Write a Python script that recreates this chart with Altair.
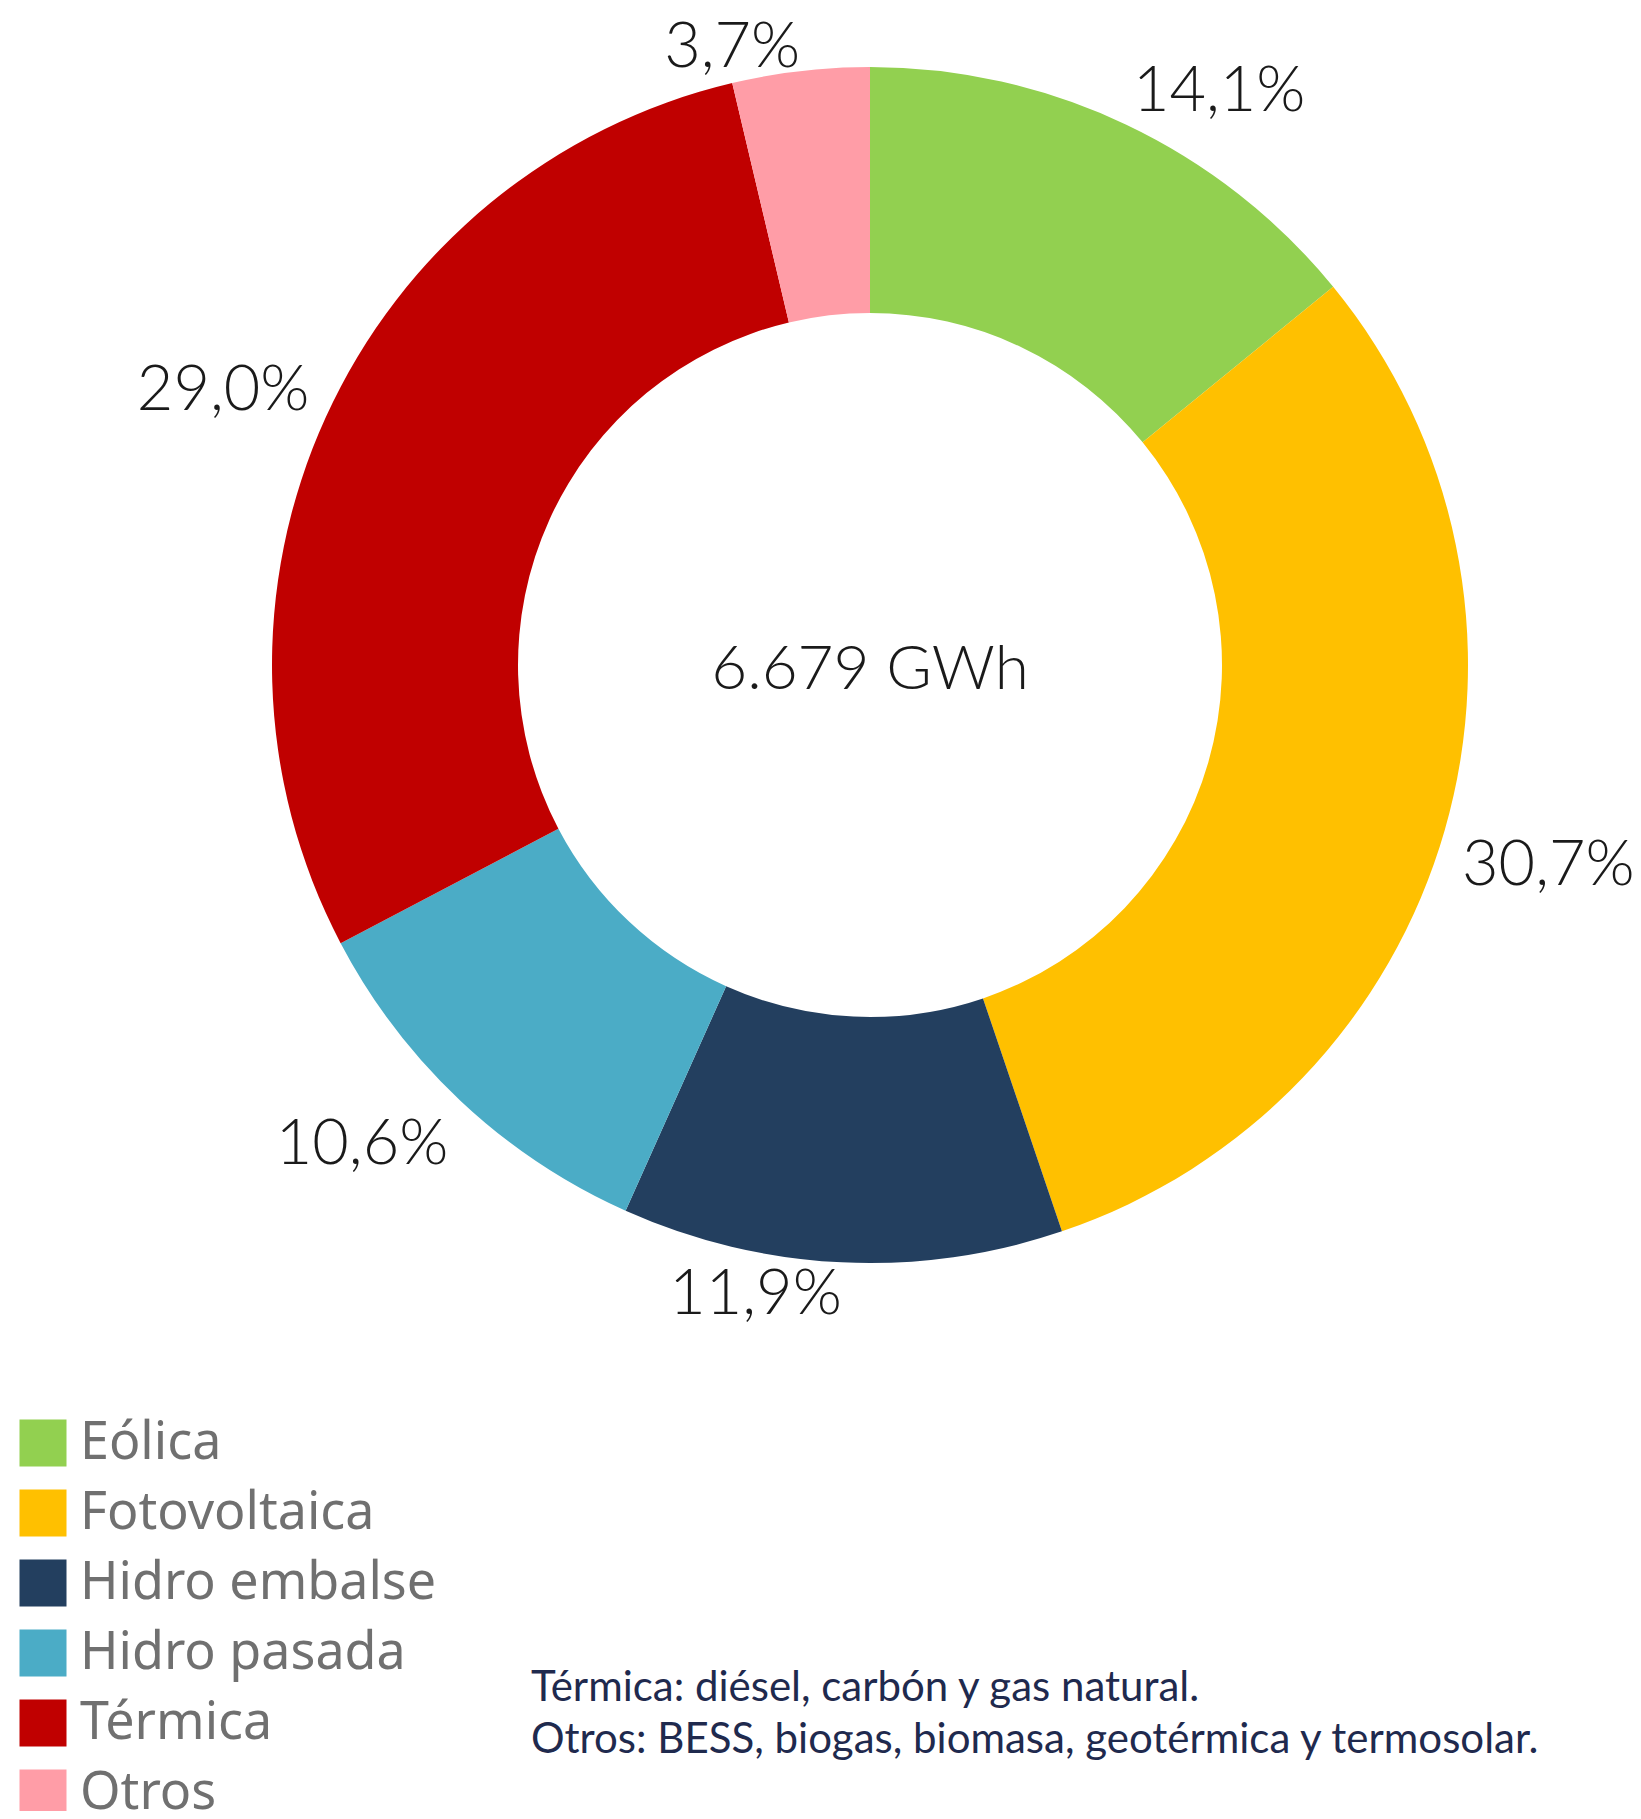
import altair as alt
import pandas as pd

categories = ["Eólica", "Fotovoltaica", "Hidro embalse", "Hidro pasada", "Térmica", "Otros"]
shares = [14.1, 30.7, 11.9, 10.6, 29.0, 3.7]
colors = ["#92D050", "#FFC000", "#233F5F", "#4BACC6", "#C00000", "#FF9DA7"]
total_label = "6.679 GWh"
footnote_lines = [
    "Térmica: diésel, carbón y gas natural.",
    "Otros: BESS, biogas, biomasa, geotérmica y termosolar.",
]

df = pd.DataFrame({"cat": categories, "value": shares, "idx": list(range(len(categories)))})

W, H = 1625, 1803
CX, CY = 862, 657
R_OUT, R_IN = 598, 352
FONT = "Noto Sans"
LFONT = "Lato"

theta_scale = alt.Scale(domain=[0, 100])
color_scale = alt.Scale(domain=categories, range=colors)

base = alt.Chart(df)

arcs = base.mark_arc(outerRadius=R_OUT, innerRadius=R_IN).encode(
    theta=alt.Theta("value:Q", stack=True, scale=theta_scale),
    color=alt.Color(
        "cat:N",
        scale=color_scale,
        sort=categories,
        legend=alt.Legend(
            title=None,
            orient="none",
            legendX=9,
            legendY=1409,
            symbolType="square",
            symbolSize=2209,
            symbolStrokeWidth=0,
            symbolOpacity=1,
            labelFont=FONT,
            labelFontSize=52,
            labelColor="#707070",
            labelOffset=11,
            rowPadding=18,
            padding=0,
            labelLimit=600,
        ),
    ),
    order=alt.Order("idx:Q"),
    x=alt.value(CX),
    y=alt.value(CY),
)

# label anchor: just outside the ring, a bit further out where the text box
# extends sideways
lab_base = base.transform_window(
    cum="sum(value)", sort=[alt.SortField("idx")], frame=[None, 0]
).transform_calculate(
    mid="datum.cum - datum.value / 2",
    label="replace(format(datum.value, '.1f'), '.', ',') + '%'",
).transform_calculate(
    rad=f"{R_OUT} + 18 * min(1, 2 * abs(sin(datum.mid / 100 * 2 * PI)))"
)

def labels(lo, hi, align, baseline):
    return lab_base.transform_filter(
        f"datum.mid >= {lo} && datum.mid < {hi}"
    ).mark_text(
        align=align, baseline=baseline, font=LFONT, fontWeight=300,
        fontSize=63, color="#1a1a1a",
    ).encode(
        theta=alt.Theta("mid:Q", stack=None, scale=theta_scale),
        radius=alt.Radius("rad:Q", scale=None),
        text="label:N",
        x=alt.value(CX),
        y=alt.value(CY),
    )

q1 = labels(0, 25, "left", "alphabetic")
q2 = labels(25, 50, "left", "top")
q3 = labels(50, 75, "right", "top")
q4 = labels(75, 101, "right", "alphabetic")

center = alt.Chart(pd.DataFrame({"t": [total_label]})).mark_text(
    font=LFONT, fontWeight=300, fontSize=62, color="#1a1a1a", align="center", baseline="middle"
).encode(text="t:N", x=alt.value(CX), y=alt.value(CY + 5))

foot = alt.Chart(pd.DataFrame({"t": ["\n".join(footnote_lines)]})).mark_text(
    font=LFONT, fontSize=42, color="#1f2a4e", align="left", baseline="middle",
    lineBreak="\n", lineHeight=52,
).encode(text="t:N", x=alt.value(523), y=alt.value(1680))

chart = alt.layer(arcs, q1, q2, q3, q4, center, foot).properties(
    width=W, height=H, autosize=alt.AutoSizeParams(type="none"), padding=0
).configure_view(stroke=None)

chart.save("out.html", embed_options={"renderer": "svg", "actions": False})
